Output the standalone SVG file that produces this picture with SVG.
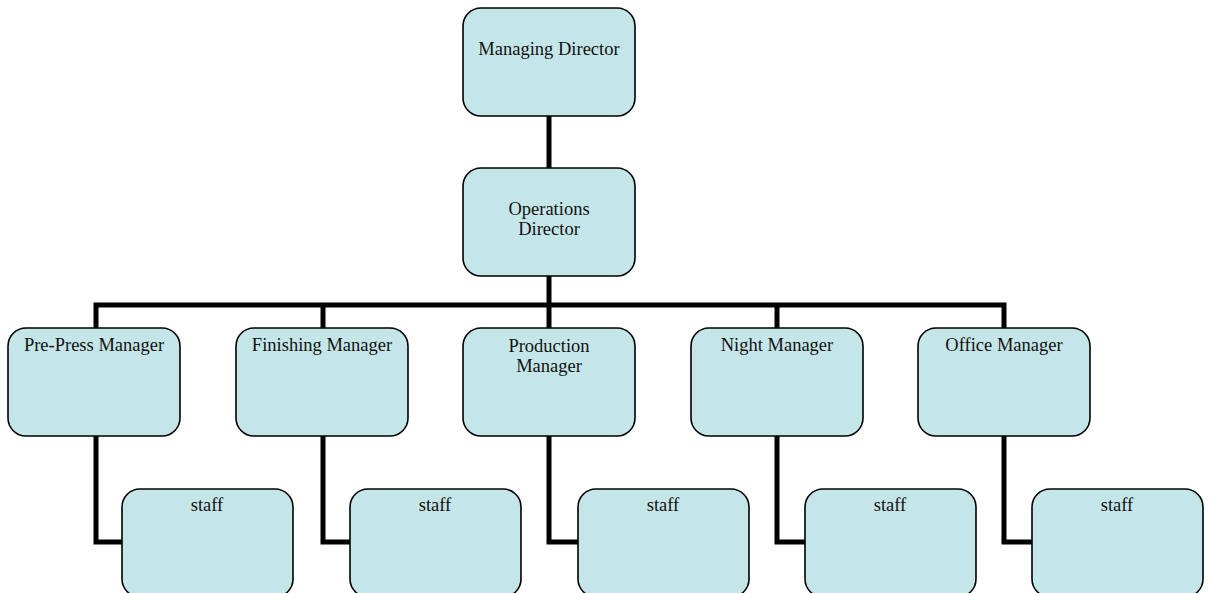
<svg xmlns="http://www.w3.org/2000/svg" width="1212" height="593" viewBox="0 0 1212 593">
<style>
.box{fill:#c5e6e9;stroke:#000;stroke-width:1.6}
.lbl{font-family:"Liberation Serif","Times New Roman",serif;font-size:18.5px;fill:#111;text-anchor:middle}
.conn{fill:none;stroke:#000;stroke-width:5;stroke-linejoin:miter;stroke-linecap:butt}
</style>
<rect width="1212" height="593" fill="#fff"/>
<g id="connectors">
<path class="conn" d="M549,116 V168"/>
<path class="conn" d="M549,276 V328"/>
<path class="conn" d="M96,328 V305 H1004 V328"/>
<path class="conn" d="M323,305 V328"/>
<path class="conn" d="M777,305 V328"/>
<path class="conn" d="M96,436 V542 H122"/>
<path class="conn" d="M323,436 V542 H350"/>
<path class="conn" d="M549,436 V542 H578"/>
<path class="conn" d="M777,436 V542 H805"/>
<path class="conn" d="M1004,436 V542 H1032"/>
</g>
<g id="managing-director"><rect class="box" x="463" y="8" width="172" height="108" rx="18"/><text class="lbl" x="549" y="55">Managing Director</text></g>
<g id="operations-director"><rect class="box" x="463" y="168" width="172" height="108" rx="18"/><text class="lbl" x="549" y="215">Operations</text><text class="lbl" x="549" y="235">Director</text></g>
<g id="prepress-manager"><rect class="box" x="8" y="328" width="172" height="108" rx="18"/><text class="lbl" x="94" y="351">Pre-Press Manager</text></g>
<g id="finishing-manager"><rect class="box" x="236" y="328" width="172" height="108" rx="18"/><text class="lbl" x="322" y="351">Finishing Manager</text></g>
<g id="production-manager"><rect class="box" x="463" y="328" width="172" height="108" rx="18"/><text class="lbl" x="549" y="352">Production</text><text class="lbl" x="549" y="372">Manager</text></g>
<g id="night-manager"><rect class="box" x="691" y="328" width="172" height="108" rx="18"/><text class="lbl" x="777" y="351">Night Manager</text></g>
<g id="office-manager"><rect class="box" x="918" y="328" width="172" height="108" rx="18"/><text class="lbl" x="1004" y="351">Office Manager</text></g>
<g id="staff-1"><rect class="box" x="122" y="489" width="171" height="108" rx="18"/><text class="lbl" x="207" y="511">staff</text></g>
<g id="staff-2"><rect class="box" x="350" y="489" width="171" height="108" rx="18"/><text class="lbl" x="435" y="511">staff</text></g>
<g id="staff-3"><rect class="box" x="578" y="489" width="171" height="108" rx="18"/><text class="lbl" x="663" y="511">staff</text></g>
<g id="staff-4"><rect class="box" x="805" y="489" width="171" height="108" rx="18"/><text class="lbl" x="890" y="511">staff</text></g>
<g id="staff-5"><rect class="box" x="1032" y="489" width="171" height="108" rx="18"/><text class="lbl" x="1117" y="511">staff</text></g>
</svg>
